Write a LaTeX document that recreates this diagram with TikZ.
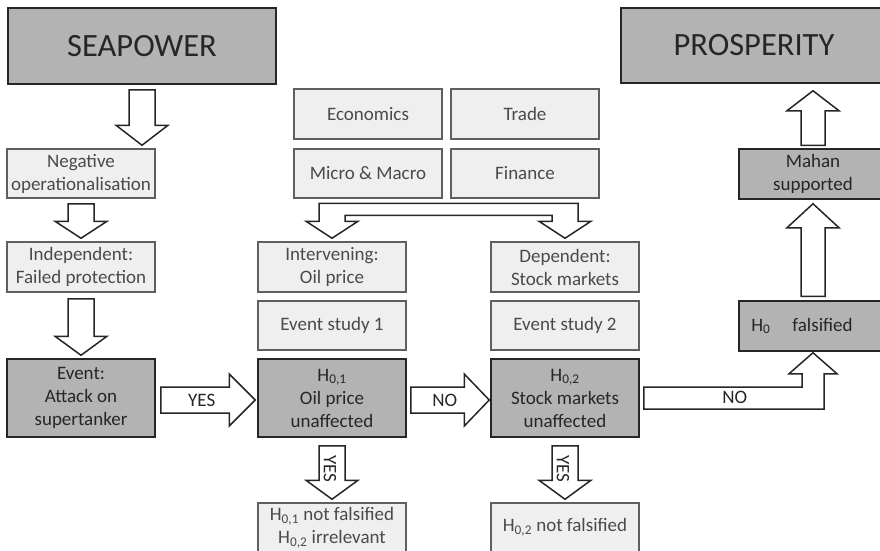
\documentclass[tikz,border=0pt]{standalone}
\usepackage{fontspec}
\setmainfont{Carlito}
\usetikzlibrary{calc}

\definecolor{darkfill}{HTML}{B3B3B3}
\definecolor{lightfill}{HTML}{EFEFEF}
\definecolor{darkline}{HTML}{262626}
\definecolor{lightline}{HTML}{5F5F5F}
\definecolor{lighttext}{HTML}{4A4A4A}

\tikzset{
  box/.style={rectangle, align=center, inner sep=0pt, line width=1.5pt, minimum width=148pt, font=\fontsize{19}{23}\selectfont},
  darkbox/.style={box, draw=darkline, fill=darkfill, text=darkline},
  lightbox/.style={box, draw=lightline, fill=lightfill, text=lighttext},
  titlebox/.style={darkbox, font=\fontsize{32.5}{36}\selectfont},
  blk/.style={draw=darkline, fill=white, line width=1.5pt},
  blklabel/.style={inner sep=0pt, text=darkline, font=\fontsize{19}{23}\selectfont}
}

% block arrows: #1 from node, #2 to node, #3 gap at start, #4 gap at tip, #5 head length
\newcommand\blkdown[5]{\draw[blk] ($(#1.south)+(-13,#3)$) -- ($(#2.north -| #1.south)+(-13,-#4-#5)$) -- ($(#2.north -| #1.south)+(-26,-#4-#5)$) -- ($(#2.north -| #1.south)+(0,-#4)$) -- ($(#2.north -| #1.south)+(26,-#4-#5)$) -- ($(#2.north -| #1.south)+(13,-#4-#5)$) -- ($(#1.south)+(13,#3)$) -- cycle;}
\newcommand\blkup[5]{\draw[blk] ($(#1.north)+(-12,-#3)$) -- ($(#2.south -| #1.north)+(-12,#4+#5)$) -- ($(#2.south -| #1.north)+(-26,#4+#5)$) -- ($(#2.south -| #1.north)+(0,#4)$) -- ($(#2.south -| #1.north)+(26,#4+#5)$) -- ($(#2.south -| #1.north)+(12,#4+#5)$) -- ($(#1.north)+(12,-#3)$) -- cycle;}
\newcommand\blkright[5]{\draw[blk] ($(#1.east)+(#3,-11)$) -- ($(#2.west)+(-#4-#5,-11)$) -- ($(#2.west)+(-#4-#5,-24)$) -- ($(#2.west)+(-#4,2)$) -- ($(#2.west)+(-#4-#5,28)$) -- ($(#2.west)+(-#4-#5,15)$) -- ($(#1.east)+(#3,15)$) -- cycle;}

\begin{document}
\begin{tikzpicture}[x=1pt, y=-1pt]
  \useasboundingbox (0,0) rectangle (880,550);
  \clip (0,0) rectangle (880,550);

  % left column
  \node[titlebox, minimum width=268pt, minimum height=76pt] (sea) at (142,46) {SEAPOWER};
  \node[lightbox, minimum height=49pt] (neg) at (81,173.5) {Negative\\operationalisation};
  \node[lightbox, minimum height=50pt] (ind) at (81,267) {Independent:\\Failed protection};
  \node[darkbox, minimum height=78pt] (event) at (81,398) {Event:\\Attack on\\supertanker};

  % theory boxes
  \node[lightbox, minimum height=50pt] (econ) at (368,114) {Economics};
  \node[lightbox, minimum height=50pt] (trade) at (525,114) {Trade};
  \node[lightbox, minimum height=49pt] (micro) at (368,173.5) {Micro \& Macro};
  \node[lightbox, minimum height=49pt] (fin) at (525,173.5) {Finance};

  % middle columns
  \node[lightbox, minimum height=50pt] (interv) at (332,267) {Intervening:\\Oil price};
  \node[lightbox, minimum height=50pt] (dep) at (565,267) {Dependent:\\Stock markets};
  \node[lightbox, minimum height=49pt] (es1) at (332,325.5) {Event study 1};
  \node[lightbox, minimum height=49pt] (es2) at (565,325.5) {Event study 2};
  \node[darkbox, minimum height=78pt] (h01) at (332,398) {H\textsubscript{0,1}\\Oil price\\unaffected};
  \node[darkbox, minimum height=78pt] (h02) at (565,398) {H\textsubscript{0,2}\\Stock markets\\unaffected};
  \node[lightbox, minimum height=49pt] (nf1) at (332,527.5) {H\textsubscript{0,1} not falsified\\H\textsubscript{0,2} irrelevant};
  \node[lightbox, minimum height=49pt] (nf2) at (565,527.5) {\raisebox{3pt}{H\textsubscript{0,2} not falsified}};

  % right column
  \node[titlebox, minimum width=266pt, minimum height=75pt] (pros) at (754,45.5) {PROSPERITY};
  \node[darkbox, minimum height=50pt] (mahan) at (813,174) {Mahan\\supported};
  \node[darkbox, minimum height=50pt] (fals) at (813,326) {H\textsubscript{0}\hspace{22pt}falsified\hspace{22pt}};

  % arrows
  \blkdown{sea}{neg}{5}{3}{20}
  \blkdown{neg}{ind}{5}{3}{17}
  \blkdown{ind}{event}{6}{3}{19}
  \blkdown{h01}{nf1}{8}{3}{19}
  \blkdown{h02}{nf2}{8}{3}{19}
  \blkup{mahan}{pros}{3}{7}{20}
  \blkup{fals}{mahan}{4}{4}{24}
  \blkright{event}{h01}{5}{2}{26}
  \blkright{h01}{h02}{4}{1}{25}

  % split arrow from the theory boxes
  \draw[blk] ($(interv.north)+(-13,-38)$) -- ($(dep.north)+(13,-38)$) -- ($(dep.north)+(13,-20)$)
    -- ($(dep.north)+(26,-20)$) -- ($(dep.north)+(0,-3)$) -- ($(dep.north)+(-26,-20)$)
    -- ($(dep.north)+(-13,-20)$) -- ($(dep.north)+(-13,-26)$) -- ($(interv.north)+(13,-26)$)
    -- ($(interv.north)+(13,-20)$) -- ($(interv.north)+(26,-20)$) -- ($(interv.north)+(0,-3)$)
    -- ($(interv.north)+(-26,-20)$) -- ($(interv.north)+(-13,-20)$) -- cycle;

  % elbow arrow to H0 falsified
  \draw[blk] let \p1=(h02.east), \p2=(fals.south) in
    (\x1+4pt,\y1+11pt) -- (\x2-11pt,\y1+11pt) -- (\x2-11pt,\y2-22pt) -- (\x2-24pt,\y2-22pt)
    -- (\x2,\y2-1pt) -- (\x2+24pt,\y2-22pt) -- (\x2+11pt,\y2-22pt) -- (\x2+11pt,\y1-11pt)
    -- (\x1+4pt,\y1-11pt) -- cycle;

  % arrow labels
  \node[blklabel] (yes1) at ($(event.east)+(46,2)$) {YES};
  \node[blklabel] (no1) at ($(h01.east)+(38,2)$) {NO};
  \node[blklabel, rotate=-90] (yes2) at ($(h01.south)+(-2,31)$) {YES};
  \node[blklabel, rotate=-90] (yes3) at ($(h02.south)+(-2,31)$) {YES};
  \node[blklabel] (no2) at ($(h02.east)+(95,-1)$) {NO};
\end{tikzpicture}
\end{document}
